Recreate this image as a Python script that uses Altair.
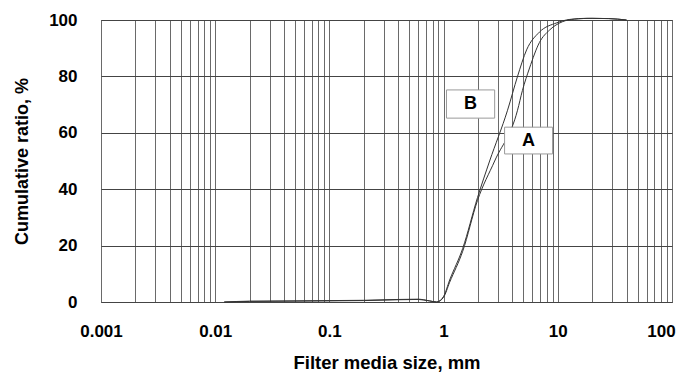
import altair as alt
import pandas as pd

# Series B (left, steeper curve)
size_b = [0.012, 0.02, 0.05, 0.1, 0.2, 0.4, 0.6, 0.75, 0.87, 1.0, 1.13, 1.47, 1.98, 2.53, 3.63, 4.44, 5.33, 6.9, 9.8, 12.7, 18, 28, 40]
cum_b = [0, 0.3, 0.4, 0.5, 0.6, 0.9, 1.0, 0.4, 0, 2, 7.8, 19, 37, 50, 68, 80, 89.4, 95.7, 99, 100.2, 100.6, 100.5, 100]
# Series A (right curve)
size_a = [0.012, 0.02, 0.05, 0.1, 0.2, 0.4, 0.6, 0.75, 0.87, 1.0, 1.13, 1.47, 1.98, 2.8, 4.44, 4.9, 5.66, 6.9, 8.5, 11, 14, 20, 28, 40]
cum_a = [0, 0.2, 0.3, 0.4, 0.5, 0.8, 0.9, 0.4, 0, 1.7, 7, 18, 36, 50, 68, 75, 83, 92, 96.5, 99.4, 100.3, 100.6, 100.5, 100]

# Label boxes (data coordinates)
lab_names = ["B", "A"]
lab_x1 = [1.06, 3.42]
lab_x2 = [2.8, 9.0]
lab_y1 = [65.2, 52.5]
lab_y2 = [75.2, 62]
lab_tx = [1.72, 5.55]
lab_ty = [70.2, 57.2]

y_ticks = [0, 20, 40, 60, 80, 100]
decades = [0.001, 0.01, 0.1, 1, 10]
x_grid = [round(d * k, 6) for d in decades for k in range(1, 10)] + [100]

df = pd.DataFrame(
    {"size": size_b + size_a,
     "cum": cum_b + cum_a,
     "series": ["B"] * len(size_b) + ["A"] * len(size_a)}
)
labs = pd.DataFrame({"name": lab_names, "x1": lab_x1, "x2": lab_x2,
                     "y1": lab_y1, "y2": lab_y2, "tx": lab_tx, "ty": lab_ty})

FONT = "Liberation Sans"

xscale = alt.Scale(type="log", domain=[0.001, 100], nice=False)
yscale = alt.Scale(domain=[0, 100], nice=False)

xaxis = alt.Axis(
    values=x_grid, grid=True, ticks=False, domain=False,
    gridColor="#6a6a6a", gridOpacity=1, gridWidth=1,
    format="~g",
    labelExpr="abs(log(datum.value)/LN10 - round(log(datum.value)/LN10)) < 1e-6 ? datum.label : ''",
    labelFont=FONT, labelFontSize=17, labelFontWeight="bold", labelColor="black",
    labelPadding=21, labelFlush=False, labelOverlap=False,
    labelOffset={"condition": {"test": "datum.value >= 99", "value": -11}, "value": 0},
    title="Filter media size, mm", titleFont=FONT, titleFontSize=18.5,
    titleFontWeight="bold", titleColor="black", titlePadding=14,
)
yaxis = alt.Axis(
    values=y_ticks, grid=True, ticks=False, domain=False,
    gridColor="#444", gridOpacity=1, gridWidth=1,
    labelFont=FONT, labelFontSize=17, labelFontWeight="bold", labelColor="black",
    labelPadding=24,
    title="Cumulative ratio, %", titleFont=FONT, titleFontSize=18,
    titleFontWeight="bold", titleColor="black", titlePadding=17,
)

lines = alt.Chart(df).mark_line(color="#333", strokeWidth=1, interpolate="monotone", clip=False).encode(
    x=alt.X("size:Q", scale=xscale, axis=xaxis),
    y=alt.Y("cum:Q", scale=yscale, axis=yaxis),
    detail="series:N",
)

boxes = alt.Chart(labs).mark_rect(fill="white", stroke="#999", strokeWidth=1).encode(
    x=alt.X("x1:Q", scale=xscale), x2="x2:Q",
    y=alt.Y("y1:Q", scale=yscale), y2="y2:Q",
)
texts = alt.Chart(labs).mark_text(font=FONT, fontSize=18, fontWeight="bold", color="black",
                                  align="center", baseline="middle").encode(
    x=alt.X("tx:Q", scale=xscale), y=alt.Y("ty:Q", scale=yscale), text="name:N",
)

chart = alt.layer(lines, boxes, texts).properties(
    width=571, height=282,
    autosize=alt.AutoSizeParams(type="none"),
    padding={"left": 93, "top": 12, "right": 4, "bottom": 71},
    background="white",
).configure_view(stroke="#333", strokeWidth=1)

chart.save("out.html", embed_options={"renderer": "svg", "actions": False})
